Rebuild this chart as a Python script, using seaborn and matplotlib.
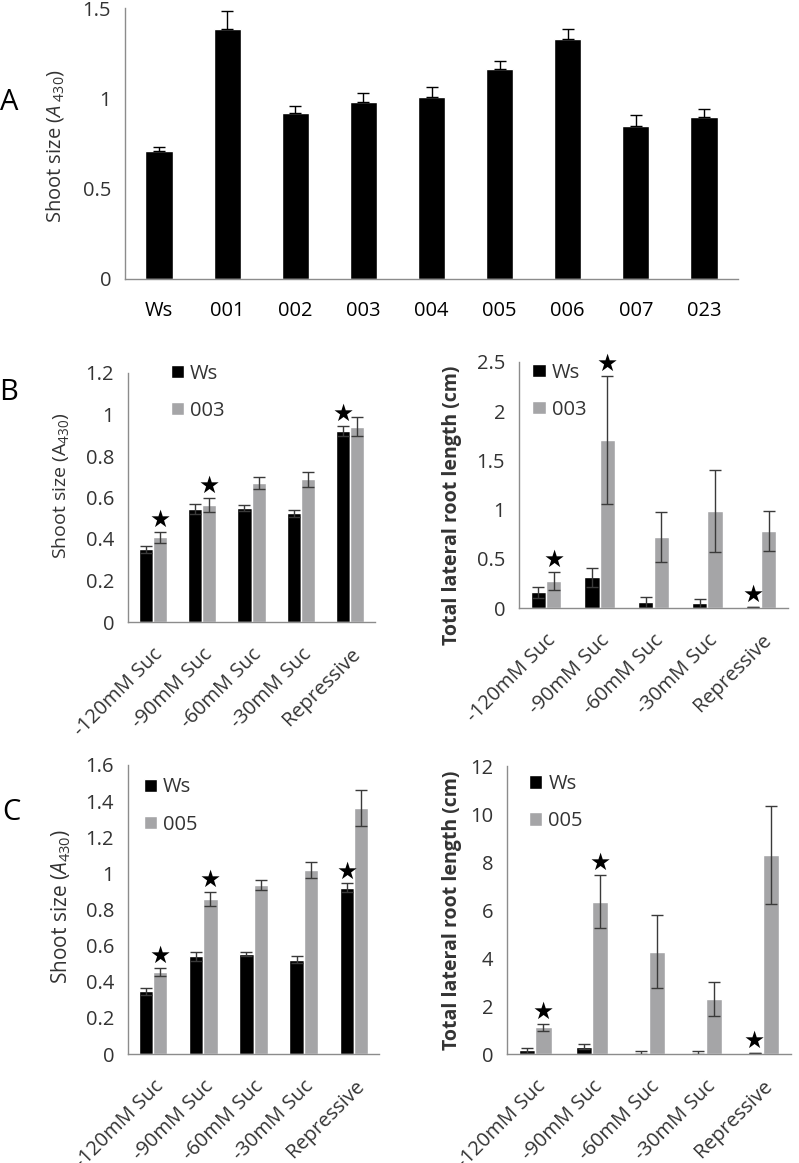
import numpy as np
import pandas as pd
import matplotlib
matplotlib.use('Agg')
from matplotlib import pyplot as plt
import seaborn as sns

# Panel A: shoot size of lines
lines_a = ['Ws', '001', '002', '003', '004', '005', '006', '007', '023']
shoot_a = [0.71, 1.384, 0.921, 0.982, 1.007, 1.16, 1.328, 0.849, 0.895]
shoot_a_err = [0.021, 0.10, 0.038, 0.046, 0.054, 0.045, 0.056, 0.061, 0.046]

conditions = ['-120mM Suc', '-90mM Suc', '-60mM Suc', '-30mM Suc', 'Repressive']

# Panel B: Ws vs 003
b_shoot_ws = [0.350, 0.543, 0.551, 0.524, 0.921]
b_shoot_ws_err = [0.017, 0.024, 0.015, 0.017, 0.025]
b_shoot_003 = [0.408, 0.564, 0.672, 0.688, 0.942]
b_shoot_003_err = [0.025, 0.035, 0.029, 0.035, 0.044]
b_root_ws = [0.159, 0.311, 0.057, 0.047, 0.010]
b_root_ws_err = [0.054, 0.10, 0.054, 0.044, 0.0]
b_root_003 = [0.270, 1.706, 0.720, 0.986, 0.784]
b_root_003_err = [0.092, 0.65, 0.257, 0.42, 0.20]

# Panel C: Ws vs 005
c_shoot_ws = [0.347, 0.542, 0.553, 0.522, 0.920]
c_shoot_ws_err = [0.021, 0.025, 0.012, 0.018, 0.024]
c_shoot_005 = [0.453, 0.859, 0.936, 1.017, 1.362]
c_shoot_005_err = [0.022, 0.038, 0.028, 0.044, 0.10]
c_root_ws = [0.15, 0.30, 0.05, 0.05, 0.03]
c_root_ws_err = [0.10, 0.11, 0.06, 0.06, 0.0]
c_root_005 = [1.12, 6.35, 4.27, 2.29, 8.30]
c_root_005_err = [0.15, 1.12, 1.53, 0.70, 2.04]

# significance stars: (condition index, series index 0=Ws 1=mutant)
b_shoot_stars = [(0, 1), (1, 1), (4, 0)]
b_root_stars = [(0, 1), (1, 1), (4, 0)]
c_shoot_stars = [(0, 1), (1, 1), (4, 0)]
c_root_stars = [(0, 1), (1, 1), (4, 0)]

GRAY = '#a5a5a7'
AXC = '#8c8c8c'
TXT = '#333333'
W, H = 799, 1163

sns.set_style('white')
plt.rcParams['font.family'] = ['Open Sans', 'DejaVu Sans']
plt.rcParams['mathtext.fontset'] = 'custom'
plt.rcParams['mathtext.rm'] = 'Open Sans'
plt.rcParams['mathtext.it'] = 'Open Sans:italic'
plt.rcParams['mathtext.bf'] = 'Open Sans:bold'

fig = plt.figure(figsize=(W / 100, H / 100), dpi=100)


def px_axes(left, right, top, bottom):
    # axes box from pixel edges of the reference
    return fig.add_axes([left / W, 1 - bottom / H, (right - left) / W, (bottom - top) / H])


def place_ylabel(ax, box, cx, cy):
    left, right, top, bottom = box
    ax.yaxis.set_label_coords((cx - left) / (right - left), (bottom - cy) / (bottom - top))
    ax.yaxis.label.set_verticalalignment('center')


def style_axis(ax, n, ylim, yticks, tick_fs):
    ax.set_xlim(-0.5, n - 0.5)
    ax.set_ylim(*ylim)
    ax.set_yticks(yticks)
    ax.set_yticklabels([f'{t:g}' for t in yticks], fontsize=tick_fs, color=TXT)
    for s in ['top', 'right']:
        ax.spines[s].set_visible(False)
    for s in ['left', 'bottom']:
        ax.spines[s].set_color(AXC)
        ax.spines[s].set_linewidth(1)
    ax.set_xticks(np.arange(n + 1) - 0.5, minor=True)
    ax.tick_params(axis='x', which='major', length=0)
    ax.tick_params(axis='x', which='minor', length=6, color=AXC, width=1, direction='out')
    ax.tick_params(axis='y', length=5, color=AXC, width=1, direction='out', pad=5)
    ax.set_xlabel('')


def grouped_panel(ax, box, ws, ws_err, mut, mut_err, mut_name, ylim, yticks, ylabel,
                  label_weight, label_fs, label_xy, stars, legend_anchor):
    df = pd.DataFrame({
        'condition': conditions * 2,
        'value': ws + mut,
        'genotype': ['Ws'] * len(conditions) + [mut_name] * len(conditions),
    })
    sns.barplot(data=df, x='condition', y='value', hue='genotype',
                palette=['black', GRAY], saturation=1, width=0.57, gap=0,
                errorbar=None, ax=ax)
    tops = []
    for cont, errs in zip(ax.containers, [ws_err, mut_err]):
        xs = [b.get_x() + b.get_width() / 2 for b in cont]
        ys = [b.get_height() for b in cont]
        ax.errorbar(xs, ys, yerr=errs, fmt='none', ecolor='#3a3a3a',
                    elinewidth=1, capsize=4, capthick=1)
        tops.append(list(zip(xs, [y + e for y, e in zip(ys, errs)])))
    for ci, si in stars:
        x, y = tops[si][ci]
        ax.annotate('★', (x, y), xytext=(0, 0), textcoords='offset points',
                    ha='center', va='bottom', fontsize=17, color='black',
                    family='DejaVu Sans')
    style_axis(ax, len(conditions), ylim, yticks, 14.5)
    ax.set_xticks(range(len(conditions)))
    ax.set_xticklabels(conditions, rotation=45, ha='right', va='top',
                       rotation_mode='anchor', fontsize=14.5, color=TXT)
    ax.tick_params(axis='x', which='major', pad=16)
    ax.set_ylabel(ylabel, fontsize=label_fs, fontweight=label_weight, color=TXT)
    place_ylabel(ax, box, *label_xy)
    handles, labels = ax.get_legend_handles_labels()
    ax.legend(handles, labels, loc='upper left', bbox_to_anchor=legend_anchor,
              frameon=False, fontsize=14.5, handlelength=0.65, handleheight=0.65,
              labelspacing=0.85, handletextpad=0.3, borderaxespad=0,
              labelcolor=TXT)


# ---- Panel A ----
boxA = (125, 738, 8, 279)
axA = px_axes(*boxA)
dfa = pd.DataFrame({'line': lines_a, 'shoot': shoot_a})
sns.barplot(data=dfa, x='line', y='shoot', color='black', saturation=1,
            width=0.40, errorbar=None, ax=axA)
bars = axA.containers[0]
xa = [b.get_x() + b.get_width() / 2 for b in bars]
ya = [b.get_height() for b in bars]
axA.errorbar(xa, ya, yerr=[np.zeros(len(ya)), shoot_a_err], fmt='none',
             ecolor='black', elinewidth=1, capsize=4, capthick=1)
style_axis(axA, len(lines_a), (0, 1.5), [0, 0.5, 1, 1.5], 14.5)
axA.set_xticks(range(len(lines_a)))
axA.set_xticklabels(lines_a, fontsize=14.5, color='black')
axA.tick_params(axis='x', which='major', pad=16)
axA.set_ylabel(r'Shoot size ($\mathit{A}_{\ \mathit{430}}$)', fontsize=14.5, color=TXT)
place_ylabel(axA, boxA, 55, 146)

# ---- Panel B ----
boxB1 = (128, 375, 373, 622)
axB1 = px_axes(*boxB1)
grouped_panel(axB1, boxB1, b_shoot_ws, b_shoot_ws_err, b_shoot_003, b_shoot_003_err, '003',
              (0, 1.2), [0, 0.2, 0.4, 0.6, 0.8, 1.0, 1.2],
              r'Shoot size ($\mathrm{A}_{\mathit{430}}$)', 'normal', 14, (61, 486),
              b_shoot_stars, (0.14, 1.07))
boxB2 = (519, 788, 362, 608)
axB2 = px_axes(*boxB2)
grouped_panel(axB2, boxB2, b_root_ws, b_root_ws_err, b_root_003, b_root_003_err, '003',
              (0, 2.5), [0, 0.5, 1, 1.5, 2, 2.5],
              'Total lateral root length (cm)', 'bold', 14, (452, 505),
              b_root_stars, (0.02, 1.03))

# ---- Panel C ----
boxC1 = (128, 379, 765, 1054)
axC1 = px_axes(*boxC1)
grouped_panel(axC1, boxC1, c_shoot_ws, c_shoot_ws_err, c_shoot_005, c_shoot_005_err, '005',
              (0, 1.6), [0, 0.2, 0.4, 0.6, 0.8, 1.0, 1.2, 1.4, 1.6],
              r'Shoot size ($\mathit{A}_{\mathit{430}}$)', 'normal', 15, (61, 906),
              c_shoot_stars, (0.03, 0.985))
boxC2 = (507, 791, 766, 1054)
axC2 = px_axes(*boxC2)
grouped_panel(axC2, boxC2, c_root_ws, c_root_ws_err, c_root_005, c_root_005_err, '005',
              (0, 12), [0, 2, 4, 6, 8, 10, 12],
              'Total lateral root length (cm)', 'bold', 14, (452, 910),
              c_root_stars, (0.05, 1.0))

fig.text(9 / W, 1 - 102 / H, 'A', fontsize=21, ha='center', va='center', color='black')
fig.text(9 / W, 1 - 393 / H, 'B', fontsize=21, ha='center', va='center', color='black')
fig.text(11 / W, 1 - 812 / H, 'C', fontsize=21, ha='center', va='center', color='black')

fig.savefig('out.png', dpi=100)
